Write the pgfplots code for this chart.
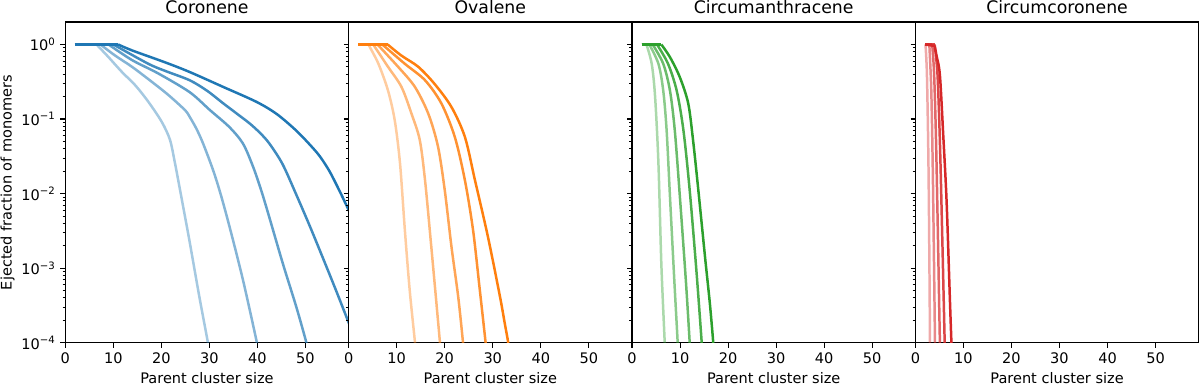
\documentclass[border=0pt]{standalone}
\usepackage{fontspec}
\setmainfont{DejaVu Sans}
\usepackage{pgfplots}
\pgfplotsset{compat=1.18}

\definecolor{tabblue}{HTML}{1F77B4}
\definecolor{taborange}{HTML}{FF7F0E}
\definecolor{tabgreen}{HTML}{2CA02C}
\definecolor{tabred}{HTML}{D62728}

\pgfplotsset{
    every axis title/.style={at={(0.5,1)}, anchor=base, yshift=5.8pt,
        font=\fontsize{12.5}{14}\selectfont},
    every axis x label/.style={at={(0.5,0)}, anchor=base, yshift=-29.5pt,
        font=\fontsize{10.5}{12}\selectfont},
}
% one panel = 283.4 px x 320.7 px at 100 dpi
\pgfplotsset{
    mypanel/.style={
        scale only axis,
        width=204.8pt, height=231.8pt,
        anchor=south west,
        xmin=0, xmax=59,
        ymin=1e-4, ymax=2,
        xtick={0,10,20,30,40,50},
        ytick={1e-4,1e-3,1e-2,1e-1,1},
        minor ytick={2e-4,3e-4,4e-4,5e-4,6e-4,7e-4,8e-4,9e-4,
                     2e-3,3e-3,4e-3,5e-3,6e-3,7e-3,8e-3,9e-3,
                     2e-2,3e-2,4e-2,5e-2,6e-2,7e-2,8e-2,9e-2,
                     0.2,0.3,0.4,0.5,0.6,0.7,0.8,0.9},
        xtick pos=bottom, ytick pos=left,
        tick align=outside,
        major tick length=3.5pt, minor tick length=2pt,
        every tick/.style={black, line width=0.8pt},
        every minor tick/.style={black, line width=0.6pt},
        axis line style={line width=0.8pt},
        /pgf/number format/assume math mode=true,
        tick label style={font=\fontsize{10.5}{12}\selectfont},
        ylabel style={font=\fontsize{10.5}{12}\selectfont},
        xlabel={Parent cluster size},
        every axis plot/.append style={line width=1.8pt, line join=round, no markers},
    },
}
\tikzset{
    o1/.style={opacity=0.4},
    o2/.style={opacity=0.55},
    o3/.style={opacity=0.7},
    o4/.style={opacity=0.85},
    o5/.style={opacity=1},
}

\begin{document}
\begin{tikzpicture}

% Coronene
\begin{semilogyaxis}[mypanel, at={(0pt,0pt)}, title={Coronene},
    yticklabels={10\textsuperscript{−4},10\textsuperscript{−3},10\textsuperscript{−2},10\textsuperscript{−1},10\textsuperscript{0}},
    ylabel={Ejected fraction of monomers}, ylabel style={yshift=-2pt}]
\addplot[tabblue, o1] coordinates {(2,1)(6.5,1)};
\addplot[tabblue, o1, smooth] coordinates {(6.5,1)(9,0.676)(11.8,0.427)(14.6,0.282)(17.3,0.170)(20.1,0.0912)(21.8,0.0525)(22.8,0.0263)(23.6,0.0141)(24.9,0.00501)(25.9,0.00224)(27.9,0.000417)(29.7,0.0001)(29.9,0.00008)};
\addplot[tabblue, o2] coordinates {(2,1)(7.3,1)};
\addplot[tabblue, o2, smooth] coordinates {(7.3,1)(10.4,0.708)(13.9,0.501)(18.0,0.316)(21.5,0.209)(24.9,0.132)(25.9,0.107)(27.3,0.0741)(28.7,0.0468)(30.8,0.0204)(32.4,0.00955)(34.3,0.00339)(37.0,0.000692)(39.9,0.0001)(40.1,0.00008)};
\addplot[tabblue, o3] coordinates {(2,1)(9,1)};
\addplot[tabblue, o3, smooth] coordinates {(9,1)(13.9,0.617)(19.4,0.407)(25.9,0.229)(30.1,0.132)(34.2,0.0776)(37.0,0.0468)(39.1,0.0229)(40.8,0.0110)(42.4,0.00501)(45.3,0.00115)(48.1,0.000302)(50.2,0.0001)(50.4,0.00008)};
\addplot[tabblue, o4] coordinates {(2,1)(10,1)};
\addplot[tabblue, o4, smooth] coordinates {(10,1)(17.3,0.550)(21,0.437)(25.9,0.331)(29.5,0.240)(32.9,0.162)(35.8,0.117)(38.4,0.0871)(40.6,0.0646)(42.5,0.0468)(45.2,0.0251)(48.0,0.0100)(51,0.00355)(54,0.00120)(56.5,0.000479)(59,0.000186)(60,0.000126)};
\addplot[tabblue, o5] coordinates {(2,1)(11,1)};
\addplot[tabblue, o5, smooth] coordinates {(11,1)(13.9,0.832)(20.8,0.575)(25.9,0.427)(32.9,0.269)(39.8,0.170)(44,0.117)(48,0.0708)(51,0.0447)(53,0.0316)(55,0.0200)(57,0.0112)(59,0.00603)(60,0.00437)};
\end{semilogyaxis}

% Ovalene
\begin{semilogyaxis}[mypanel, at={(204.8pt,0pt)}, title={Ovalene}, yticklabels={}]
\addplot[taborange, o1] coordinates {(2,1)(4.1,1)};
\addplot[taborange, o1, smooth] coordinates {(4.1,1)(6.2,0.550)(8.2,0.240)(9.6,0.0955)(10.7,0.0251)(11.7,0.00324)(12.7,0.000513)(13.8,0.000102)(13.9,0.00008)};
\addplot[taborange, o2] coordinates {(2,1)(5.1,1)};
\addplot[taborange, o2, smooth] coordinates {(5.1,1)(8.2,0.501)(11.0,0.269)(13.1,0.117)(14.8,0.0525)(15.9,0.0151)(17.2,0.00195)(19.0,0.000102)(19.1,0.00008)};
\addplot[taborange, o3] coordinates {(2,1)(6,1)};
\addplot[taborange, o3, smooth] coordinates {(6,1)(10.3,0.501)(13.8,0.269)(16.6,0.117)(18.6,0.0427)(20.0,0.0112)(21.4,0.00195)(22.8,0.000417)(23.8,0.000102)(23.9,0.00008)};
\addplot[taborange, o4] coordinates {(2,1)(7,1)};
\addplot[taborange, o4, smooth] coordinates {(7,1)(11.7,0.550)(15.9,0.331)(19.3,0.162)(22.1,0.0575)(24.2,0.0151)(25.9,0.00324)(27.3,0.000513)(28.5,0.000102)(28.6,0.00008)};
\addplot[taborange, o5] coordinates {(2,1)(8.1,1)};
\addplot[taborange, o5, smooth] coordinates {(8.1,1)(11.0,0.708)(14.5,0.501)(17.9,0.295)(21.4,0.145)(24.2,0.0575)(26.3,0.0151)(29.0,0.00263)(31.5,0.000417)(32.5,0.000182)(33.2,0.000102)(33.3,0.00008)};
\end{semilogyaxis}

% Circumanthracene
\begin{semilogyaxis}[mypanel, at={(409.6pt,0pt)}, title={Circumanthracene}, yticklabels={}]
\addplot[tabgreen, o1] coordinates {(2,1)(3,1)};
\addplot[tabgreen, o1, smooth] coordinates {(3,1)(4.1,0.550)(4.8,0.200)(5.5,0.0251)(6.1,0.00115)(6.8,0.000102)(6.85,0.00008)};
\addplot[tabgreen, o2] coordinates {(2,1)(3.6,1)};
\addplot[tabgreen, o2, smooth] coordinates {(3.6,1)(5.5,0.550)(6.5,0.240)(7.2,0.0708)(7.9,0.00912)(8.8,0.000692)(9.5,0.000102)(9.55,0.00008)};
\addplot[tabgreen, o3] coordinates {(2,1)(4.3,1)};
\addplot[tabgreen, o3, smooth] coordinates {(4.3,1)(6.5,0.550)(7.9,0.240)(8.9,0.0708)(9.96,0.00912)(11.2,0.000692)(12.0,0.000102)(12.05,0.00008)};
\addplot[tabgreen, o4] coordinates {(2,1)(5.2,1)};
\addplot[tabgreen, o4, smooth] coordinates {(5.2,1)(7.5,0.550)(9.3,0.240)(10.7,0.0708)(12.0,0.0112)(13.4,0.000933)(14.5,0.000102)(14.55,0.00008)};
\addplot[tabgreen, o5] coordinates {(2,1)(6.1,1)};
\addplot[tabgreen, o5, smooth] coordinates {(6.1,1)(7.9,0.676)(9.96,0.363)(11.7,0.162)(12.7,0.0525)(13.8,0.0112)(15.2,0.00141)(16.2,0.000339)(16.9,0.000102)(16.95,0.00008)};
\end{semilogyaxis}

% Circumcoronene
\begin{semilogyaxis}[mypanel, at={(614.4pt,0pt)}, title={Circumcoronene}, yticklabels={}]
\addplot[tabred, o1] coordinates {(2,1)(2.1,1)};
\addplot[tabred, o1, smooth] coordinates {(2.1,1)(2.4,0.398)(2.7,0.0316)(2.9,0.00158)(3.05,0.00008)};
\addplot[tabred, o2] coordinates {(2,1)(2.9,1)};
\addplot[tabred, o2, smooth] coordinates {(2.9,1)(3.3,0.251)(3.6,0.0251)(3.85,0.00158)(4.1,0.00008)};
\addplot[tabred, o3] coordinates {(2,1)(3.5,1)};
\addplot[tabred, o3, smooth] coordinates {(3.5,1)(3.9,0.398)(4.3,0.0501)(4.7,0.00251)(5.1,0.0001)(5.15,0.00008)};
\addplot[tabred, o4] coordinates {(2,1)(4,1)};
\addplot[tabred, o4, smooth] coordinates {(4,1)(4.6,0.398)(5.1,0.0501)(5.6,0.00251)(6.1,0.0001)(6.15,0.00008)};
\addplot[tabred, o5] coordinates {(2,1)(4,0.955)};
\addplot[tabred, o5, smooth] coordinates {(4,0.955)(4.4,0.708)(5.1,0.389)(5.8,0.0603)(6.5,0.00776)(7.2,0.000355)(7.5,0.0001)(7.55,0.00008)};
\end{semilogyaxis}

\pgfresetboundingbox
\path (-47.2pt,-30.6pt) rectangle (820.1pt,247.7pt);
\end{tikzpicture}
\end{document}
